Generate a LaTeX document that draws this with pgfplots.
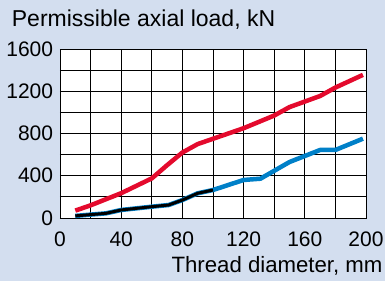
\documentclass[border=0pt]{standalone}
\usepackage{fontspec}
\setmainfont{Liberation Sans}
\usepackage{pgfplots}
\pgfplotsset{compat=1.18}
\definecolor{bgc}{RGB}{211,222,239}
\definecolor{redl}{RGB}{228,10,45}
\definecolor{bluel}{RGB}{0,128,200}
\begin{document}
\begin{tikzpicture}
\fill[bgc,use as bounding box] (-60pt,-63pt) rectangle (325pt,218pt);
\begin{axis}[
  at={(0,0)}, anchor=south west,
  scale only axis, width=306pt, height=169pt,
  xmin=0, xmax=200, ymin=0, ymax=1600,
  xtick={0,40,...,200}, ytick={0,400,...,1600},
  minor xtick={20,60,...,180}, minor ytick={200,600,...,1400},
  grid=both,
  major grid style={black, line width=0.8pt},
  minor grid style={black, line width=0.8pt},
  axis line style={black, line width=0.8pt},
  major tick length=0pt, minor tick length=0pt,
  axis background/.style={fill=white},
  /pgf/number format/assume math mode=true,
  /pgf/number format/set thousands separator={},
  xticklabel style={anchor=base, yshift=-28.7pt, inner sep=0pt},
  yticklabel style={anchor=east, inner sep=0pt, xshift=-6.7pt},
  tick label style={font=\fontsize{21}{25}\selectfont},
  clip=false,
]
\addplot[redl, line width=4.5pt, line join=round] coordinates {
(10,70) (20,120) (40,235) (60,375) (70,500) (80,620) (90,700) (100,750)
(120,850) (140,970) (150,1050) (170,1155) (180,1235) (198,1355)};
\addplot[bluel, line width=4.5pt, line join=round] coordinates {
(10,20) (30,44) (40,76) (60,107) (71,123) (80,170) (90,234) (100,265)
(120,360) (131,372) (150,530) (170,644) (180,644) (198,751)};
\addplot[black, line width=3pt, line join=round] coordinates {
(10,20) (30,44) (40,76) (60,107) (71,123) (80,170) (90,234) (100,265)};
\end{axis}
\node[anchor=base west, inner sep=0pt, font=\fontsize{23}{27}\selectfont] at (-48.3pt,191pt) {Permissible axial load, kN};
\node[anchor=base east, inner sep=0pt, font=\fontsize{22.2}{26}\selectfont] at (322.7pt,-54.7pt) {Thread diameter, mm};
\end{tikzpicture}
\end{document}
